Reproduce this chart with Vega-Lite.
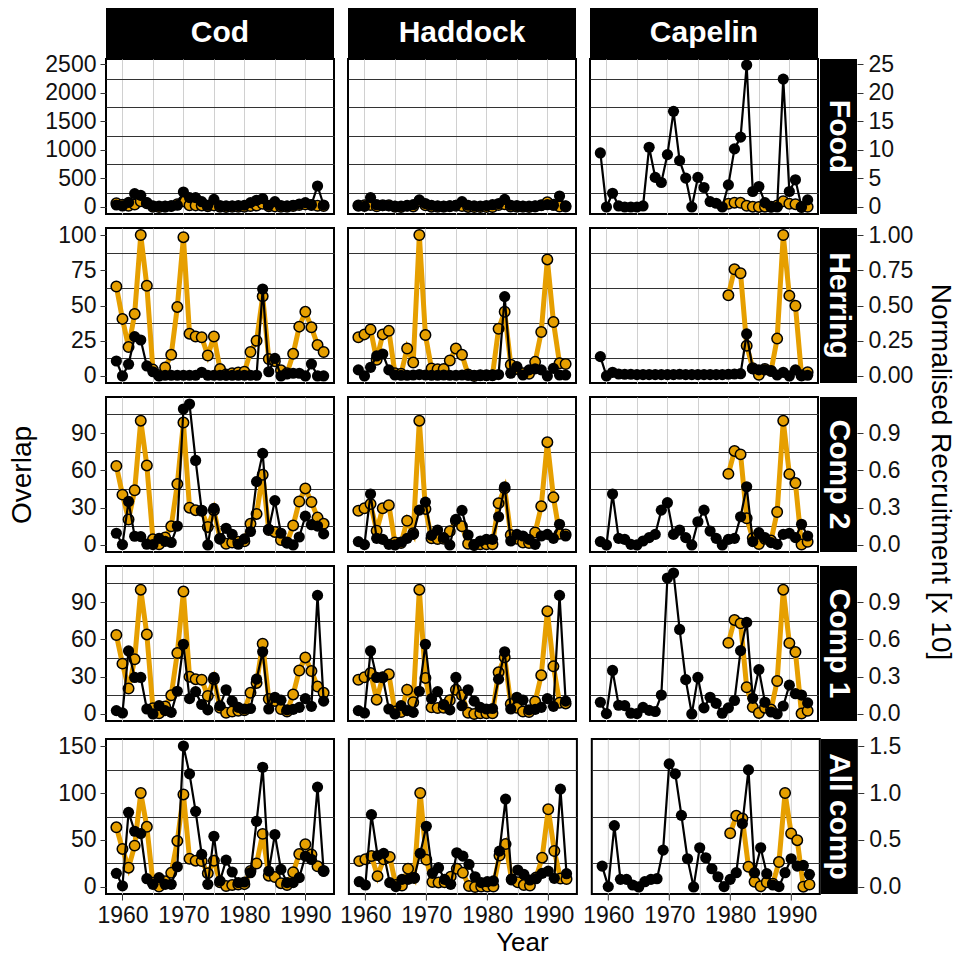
{
"$schema": "https://vega.github.io/schema/vega-lite/v6.json",
"padding": {"left": 5, "top": 8, "right": 3, "bottom": 0},
"background": "white",
"config": {
  "font": "Liberation Sans",
  "view": {"stroke": null},
  "axis": {"labelFont": "Liberation Sans", "titleFont": "Liberation Sans", "labelColor": "#111111", "tickColor": "#333333", "titleColor": "black", "labelFontSize": 23, "titleFontSize": 28, "titleFontWeight": "normal", "labelFlush": false, "tickSize": 6}
},
"datasets": {
"rc": [
{"sp":"Cod","yr":1959,"v":63.5},{"sp":"Cod","yr":1960,"v":40.5},{"sp":"Cod","yr":1961,"v":20.5},{"sp":"Cod","yr":1962,"v":44},{"sp":"Cod","yr":1963,"v":100},{"sp":"Cod","yr":1964,"v":64},{"sp":"Cod","yr":1965,"v":4.5},{"sp":"Cod","yr":1966,"v":0.5},{"sp":"Cod","yr":1967,"v":6},{"sp":"Cod","yr":1968,"v":15},{"sp":"Cod","yr":1969,"v":49},{"sp":"Cod","yr":1970,"v":98.5},{"sp":"Cod","yr":1971,"v":30},{"sp":"Cod","yr":1972,"v":28},{"sp":"Cod","yr":1973,"v":27.5},{"sp":"Cod","yr":1974,"v":14.5},{"sp":"Cod","yr":1975,"v":28},{"sp":"Cod","yr":1976,"v":5},{"sp":"Cod","yr":1977,"v":1},{"sp":"Cod","yr":1978,"v":2},{"sp":"Cod","yr":1979,"v":2.5},{"sp":"Cod","yr":1980,"v":3},{"sp":"Cod","yr":1981,"v":17},{"sp":"Cod","yr":1982,"v":25},{"sp":"Cod","yr":1983,"v":56.5},{"sp":"Cod","yr":1984,"v":12},{"sp":"Cod","yr":1985,"v":10.5},{"sp":"Cod","yr":1986,"v":4},{"sp":"Cod","yr":1987,"v":2},{"sp":"Cod","yr":1988,"v":15.7},{"sp":"Cod","yr":1989,"v":35},{"sp":"Cod","yr":1990,"v":45.5},{"sp":"Cod","yr":1991,"v":34.5},{"sp":"Cod","yr":1992,"v":22},{"sp":"Cod","yr":1993,"v":17},
{"sp":"Haddock","yr":1959,"v":27.5},{"sp":"Haddock","yr":1960,"v":29.5},{"sp":"Haddock","yr":1961,"v":33},{"sp":"Haddock","yr":1962,"v":11.5},{"sp":"Haddock","yr":1963,"v":29.5},{"sp":"Haddock","yr":1964,"v":32},{"sp":"Haddock","yr":1965,"v":2},{"sp":"Haddock","yr":1966,"v":1.5},{"sp":"Haddock","yr":1967,"v":19.5},{"sp":"Haddock","yr":1968,"v":9.5},{"sp":"Haddock","yr":1969,"v":100},{"sp":"Haddock","yr":1970,"v":29},{"sp":"Haddock","yr":1971,"v":5.3},{"sp":"Haddock","yr":1972,"v":4.8},{"sp":"Haddock","yr":1973,"v":5},{"sp":"Haddock","yr":1974,"v":11},{"sp":"Haddock","yr":1975,"v":19.5},{"sp":"Haddock","yr":1976,"v":15},{"sp":"Haddock","yr":1977,"v":1},{"sp":"Haddock","yr":1978,"v":0},{"sp":"Haddock","yr":1979,"v":0.5},{"sp":"Haddock","yr":1980,"v":0.5},{"sp":"Haddock","yr":1981,"v":0.5},{"sp":"Haddock","yr":1982,"v":33.5},{"sp":"Haddock","yr":1983,"v":45.6},{"sp":"Haddock","yr":1984,"v":8},{"sp":"Haddock","yr":1985,"v":5},{"sp":"Haddock","yr":1986,"v":2},{"sp":"Haddock","yr":1987,"v":1.5},{"sp":"Haddock","yr":1988,"v":10},{"sp":"Haddock","yr":1989,"v":31.2},{"sp":"Haddock","yr":1990,"v":82.7},{"sp":"Haddock","yr":1991,"v":38.3},{"sp":"Haddock","yr":1992,"v":9},{"sp":"Haddock","yr":1993,"v":8.5},
{"sp":"Capelin","yr":1980,"v":57.2},{"sp":"Capelin","yr":1981,"v":75.7},{"sp":"Capelin","yr":1982,"v":72.9},{"sp":"Capelin","yr":1983,"v":21.5},{"sp":"Capelin","yr":1984,"v":5.5},{"sp":"Capelin","yr":1985,"v":0.8},{"sp":"Capelin","yr":1986,"v":5},{"sp":"Capelin","yr":1987,"v":3.5},{"sp":"Capelin","yr":1988,"v":26.5},{"sp":"Capelin","yr":1989,"v":100},{"sp":"Capelin","yr":1990,"v":57},{"sp":"Capelin","yr":1991,"v":49.8},{"sp":"Capelin","yr":1992,"v":0.3},{"sp":"Capelin","yr":1993,"v":2.6}
],
"ov": [
{"p":"Food","sp":"Cod","yr":1959,"v":35},{"p":"Food","sp":"Cod","yr":1960,"v":18},{"p":"Food","sp":"Cod","yr":1961,"v":80},{"p":"Food","sp":"Cod","yr":1962,"v":234},{"p":"Food","sp":"Cod","yr":1963,"v":204},{"p":"Food","sp":"Cod","yr":1964,"v":76},{"p":"Food","sp":"Cod","yr":1965,"v":20},{"p":"Food","sp":"Cod","yr":1966,"v":15},{"p":"Food","sp":"Cod","yr":1967,"v":15},{"p":"Food","sp":"Cod","yr":1968,"v":20},{"p":"Food","sp":"Cod","yr":1969,"v":30},{"p":"Food","sp":"Cod","yr":1970,"v":263},{"p":"Food","sp":"Cod","yr":1971,"v":164},{"p":"Food","sp":"Cod","yr":1972,"v":164},{"p":"Food","sp":"Cod","yr":1973,"v":93},{"p":"Food","sp":"Cod","yr":1974,"v":30},{"p":"Food","sp":"Cod","yr":1975,"v":134},{"p":"Food","sp":"Cod","yr":1976,"v":25},{"p":"Food","sp":"Cod","yr":1977,"v":20},{"p":"Food","sp":"Cod","yr":1978,"v":20},{"p":"Food","sp":"Cod","yr":1979,"v":25},{"p":"Food","sp":"Cod","yr":1980,"v":30},{"p":"Food","sp":"Cod","yr":1981,"v":76},{"p":"Food","sp":"Cod","yr":1982,"v":117},{"p":"Food","sp":"Cod","yr":1983,"v":146},{"p":"Food","sp":"Cod","yr":1984,"v":30},{"p":"Food","sp":"Cod","yr":1985,"v":93},{"p":"Food","sp":"Cod","yr":1986,"v":25},{"p":"Food","sp":"Cod","yr":1987,"v":20},{"p":"Food","sp":"Cod","yr":1988,"v":30},{"p":"Food","sp":"Cod","yr":1989,"v":50},{"p":"Food","sp":"Cod","yr":1990,"v":76},{"p":"Food","sp":"Cod","yr":1991,"v":40},{"p":"Food","sp":"Cod","yr":1992,"v":368},{"p":"Food","sp":"Cod","yr":1993,"v":35},
{"p":"Food","sp":"Haddock","yr":1959,"v":18},{"p":"Food","sp":"Haddock","yr":1960,"v":10},{"p":"Food","sp":"Haddock","yr":1961,"v":164},{"p":"Food","sp":"Haddock","yr":1962,"v":40},{"p":"Food","sp":"Haddock","yr":1963,"v":25},{"p":"Food","sp":"Haddock","yr":1964,"v":20},{"p":"Food","sp":"Haddock","yr":1965,"v":15},{"p":"Food","sp":"Haddock","yr":1966,"v":15},{"p":"Food","sp":"Haddock","yr":1967,"v":20},{"p":"Food","sp":"Haddock","yr":1968,"v":40},{"p":"Food","sp":"Haddock","yr":1969,"v":123},{"p":"Food","sp":"Haddock","yr":1970,"v":60},{"p":"Food","sp":"Haddock","yr":1971,"v":30},{"p":"Food","sp":"Haddock","yr":1972,"v":20},{"p":"Food","sp":"Haddock","yr":1973,"v":15},{"p":"Food","sp":"Haddock","yr":1974,"v":20},{"p":"Food","sp":"Haddock","yr":1975,"v":30},{"p":"Food","sp":"Haddock","yr":1976,"v":93},{"p":"Food","sp":"Haddock","yr":1977,"v":30},{"p":"Food","sp":"Haddock","yr":1978,"v":20},{"p":"Food","sp":"Haddock","yr":1979,"v":15},{"p":"Food","sp":"Haddock","yr":1980,"v":25},{"p":"Food","sp":"Haddock","yr":1981,"v":40},{"p":"Food","sp":"Haddock","yr":1982,"v":60},{"p":"Food","sp":"Haddock","yr":1983,"v":134},{"p":"Food","sp":"Haddock","yr":1984,"v":30},{"p":"Food","sp":"Haddock","yr":1985,"v":25},{"p":"Food","sp":"Haddock","yr":1986,"v":15},{"p":"Food","sp":"Haddock","yr":1987,"v":15},{"p":"Food","sp":"Haddock","yr":1988,"v":20},{"p":"Food","sp":"Haddock","yr":1989,"v":30},{"p":"Food","sp":"Haddock","yr":1990,"v":40},{"p":"Food","sp":"Haddock","yr":1991,"v":30},{"p":"Food","sp":"Haddock","yr":1992,"v":193},{"p":"Food","sp":"Haddock","yr":1993,"v":18},
{"p":"Food","sp":"Capelin","yr":1959,"v":947},{"p":"Food","sp":"Capelin","yr":1960,"v":0},{"p":"Food","sp":"Capelin","yr":1961,"v":241},{"p":"Food","sp":"Capelin","yr":1962,"v":18},{"p":"Food","sp":"Capelin","yr":1963,"v":0},{"p":"Food","sp":"Capelin","yr":1964,"v":0},{"p":"Food","sp":"Capelin","yr":1965,"v":0},{"p":"Food","sp":"Capelin","yr":1966,"v":18},{"p":"Food","sp":"Capelin","yr":1967,"v":1047},{"p":"Food","sp":"Capelin","yr":1968,"v":518},{"p":"Food","sp":"Capelin","yr":1969,"v":429},{"p":"Food","sp":"Capelin","yr":1970,"v":918},{"p":"Food","sp":"Capelin","yr":1971,"v":1676},{"p":"Food","sp":"Capelin","yr":1972,"v":812},{"p":"Food","sp":"Capelin","yr":1973,"v":506},{"p":"Food","sp":"Capelin","yr":1974,"v":0},{"p":"Food","sp":"Capelin","yr":1975,"v":518},{"p":"Food","sp":"Capelin","yr":1976,"v":341},{"p":"Food","sp":"Capelin","yr":1977,"v":94},{"p":"Food","sp":"Capelin","yr":1978,"v":65},{"p":"Food","sp":"Capelin","yr":1979,"v":0},{"p":"Food","sp":"Capelin","yr":1980,"v":388},{"p":"Food","sp":"Capelin","yr":1981,"v":1018},{"p":"Food","sp":"Capelin","yr":1982,"v":1224},{"p":"Food","sp":"Capelin","yr":1983,"v":2488},{"p":"Food","sp":"Capelin","yr":1984,"v":271},{"p":"Food","sp":"Capelin","yr":1985,"v":359},{"p":"Food","sp":"Capelin","yr":1986,"v":76},{"p":"Food","sp":"Capelin","yr":1987,"v":0},{"p":"Food","sp":"Capelin","yr":1988,"v":0},{"p":"Food","sp":"Capelin","yr":1989,"v":2241},{"p":"Food","sp":"Capelin","yr":1990,"v":271},{"p":"Food","sp":"Capelin","yr":1991,"v":476},{"p":"Food","sp":"Capelin","yr":1992,"v":0},{"p":"Food","sp":"Capelin","yr":1993,"v":124},
{"p":"Herring","sp":"Cod","yr":1959,"v":10.6},{"p":"Herring","sp":"Cod","yr":1960,"v":0},{"p":"Herring","sp":"Cod","yr":1961,"v":8.3},{"p":"Herring","sp":"Cod","yr":1962,"v":27.9},{"p":"Herring","sp":"Cod","yr":1963,"v":25.5},{"p":"Herring","sp":"Cod","yr":1964,"v":7.1},{"p":"Herring","sp":"Cod","yr":1965,"v":3},{"p":"Herring","sp":"Cod","yr":1966,"v":0},{"p":"Herring","sp":"Cod","yr":1967,"v":0.5},{"p":"Herring","sp":"Cod","yr":1968,"v":0.5},{"p":"Herring","sp":"Cod","yr":1969,"v":0.5},{"p":"Herring","sp":"Cod","yr":1970,"v":0.5},{"p":"Herring","sp":"Cod","yr":1971,"v":0.5},{"p":"Herring","sp":"Cod","yr":1972,"v":0.5},{"p":"Herring","sp":"Cod","yr":1973,"v":2.6},{"p":"Herring","sp":"Cod","yr":1974,"v":0.5},{"p":"Herring","sp":"Cod","yr":1975,"v":0.5},{"p":"Herring","sp":"Cod","yr":1976,"v":0.5},{"p":"Herring","sp":"Cod","yr":1977,"v":0.5},{"p":"Herring","sp":"Cod","yr":1978,"v":0.5},{"p":"Herring","sp":"Cod","yr":1979,"v":0.5},{"p":"Herring","sp":"Cod","yr":1980,"v":0.5},{"p":"Herring","sp":"Cod","yr":1981,"v":0.5},{"p":"Herring","sp":"Cod","yr":1982,"v":0.5},{"p":"Herring","sp":"Cod","yr":1983,"v":61.7},{"p":"Herring","sp":"Cod","yr":1984,"v":3},{"p":"Herring","sp":"Cod","yr":1985,"v":12.5},{"p":"Herring","sp":"Cod","yr":1986,"v":0},{"p":"Herring","sp":"Cod","yr":1987,"v":1.4},{"p":"Herring","sp":"Cod","yr":1988,"v":1.9},{"p":"Herring","sp":"Cod","yr":1989,"v":1.9},{"p":"Herring","sp":"Cod","yr":1990,"v":0},{"p":"Herring","sp":"Cod","yr":1991,"v":8.5},{"p":"Herring","sp":"Cod","yr":1992,"v":0},{"p":"Herring","sp":"Cod","yr":1993,"v":0},
{"p":"Herring","sp":"Haddock","yr":1959,"v":4.3},{"p":"Herring","sp":"Haddock","yr":1960,"v":0},{"p":"Herring","sp":"Haddock","yr":1961,"v":6.1},{"p":"Herring","sp":"Haddock","yr":1962,"v":14.2},{"p":"Herring","sp":"Haddock","yr":1963,"v":15.6},{"p":"Herring","sp":"Haddock","yr":1964,"v":4.3},{"p":"Herring","sp":"Haddock","yr":1965,"v":0.7},{"p":"Herring","sp":"Haddock","yr":1966,"v":0.5},{"p":"Herring","sp":"Haddock","yr":1967,"v":0.5},{"p":"Herring","sp":"Haddock","yr":1968,"v":0.7},{"p":"Herring","sp":"Haddock","yr":1969,"v":1},{"p":"Herring","sp":"Haddock","yr":1970,"v":0.7},{"p":"Herring","sp":"Haddock","yr":1971,"v":0.5},{"p":"Herring","sp":"Haddock","yr":1972,"v":0.5},{"p":"Herring","sp":"Haddock","yr":1973,"v":0.7},{"p":"Herring","sp":"Haddock","yr":1974,"v":0.5},{"p":"Herring","sp":"Haddock","yr":1975,"v":0.5},{"p":"Herring","sp":"Haddock","yr":1976,"v":0.7},{"p":"Herring","sp":"Haddock","yr":1977,"v":0.5},{"p":"Herring","sp":"Haddock","yr":1978,"v":0.5},{"p":"Herring","sp":"Haddock","yr":1979,"v":0.5},{"p":"Herring","sp":"Haddock","yr":1980,"v":0.5},{"p":"Herring","sp":"Haddock","yr":1981,"v":0.7},{"p":"Herring","sp":"Haddock","yr":1982,"v":1},{"p":"Herring","sp":"Haddock","yr":1983,"v":56.3},{"p":"Herring","sp":"Haddock","yr":1984,"v":1.9},{"p":"Herring","sp":"Haddock","yr":1985,"v":6.6},{"p":"Herring","sp":"Haddock","yr":1986,"v":0.7},{"p":"Herring","sp":"Haddock","yr":1987,"v":4.3},{"p":"Herring","sp":"Haddock","yr":1988,"v":5},{"p":"Herring","sp":"Haddock","yr":1989,"v":4.3},{"p":"Herring","sp":"Haddock","yr":1990,"v":0},{"p":"Herring","sp":"Haddock","yr":1991,"v":5.4},{"p":"Herring","sp":"Haddock","yr":1992,"v":0.7},{"p":"Herring","sp":"Haddock","yr":1993,"v":0.7},
{"p":"Herring","sp":"Capelin","yr":1959,"v":13.7},{"p":"Herring","sp":"Capelin","yr":1960,"v":0},{"p":"Herring","sp":"Capelin","yr":1961,"v":2.6},{"p":"Herring","sp":"Capelin","yr":1962,"v":1.4},{"p":"Herring","sp":"Capelin","yr":1963,"v":1.2},{"p":"Herring","sp":"Capelin","yr":1964,"v":1.2},{"p":"Herring","sp":"Capelin","yr":1965,"v":1},{"p":"Herring","sp":"Capelin","yr":1966,"v":1},{"p":"Herring","sp":"Capelin","yr":1967,"v":1},{"p":"Herring","sp":"Capelin","yr":1968,"v":1},{"p":"Herring","sp":"Capelin","yr":1969,"v":1},{"p":"Herring","sp":"Capelin","yr":1970,"v":1},{"p":"Herring","sp":"Capelin","yr":1971,"v":1},{"p":"Herring","sp":"Capelin","yr":1972,"v":1.2},{"p":"Herring","sp":"Capelin","yr":1973,"v":1},{"p":"Herring","sp":"Capelin","yr":1974,"v":1},{"p":"Herring","sp":"Capelin","yr":1975,"v":1},{"p":"Herring","sp":"Capelin","yr":1976,"v":1},{"p":"Herring","sp":"Capelin","yr":1977,"v":1},{"p":"Herring","sp":"Capelin","yr":1978,"v":1},{"p":"Herring","sp":"Capelin","yr":1979,"v":1},{"p":"Herring","sp":"Capelin","yr":1980,"v":1.2},{"p":"Herring","sp":"Capelin","yr":1981,"v":1.4},{"p":"Herring","sp":"Capelin","yr":1982,"v":1.6},{"p":"Herring","sp":"Capelin","yr":1983,"v":29.8},{"p":"Herring","sp":"Capelin","yr":1984,"v":5},{"p":"Herring","sp":"Capelin","yr":1985,"v":4.3},{"p":"Herring","sp":"Capelin","yr":1986,"v":4.3},{"p":"Herring","sp":"Capelin","yr":1987,"v":3.5},{"p":"Herring","sp":"Capelin","yr":1988,"v":0.7},{"p":"Herring","sp":"Capelin","yr":1989,"v":2.6},{"p":"Herring","sp":"Capelin","yr":1990,"v":0},{"p":"Herring","sp":"Capelin","yr":1991,"v":4.3},{"p":"Herring","sp":"Capelin","yr":1992,"v":0.7},{"p":"Herring","sp":"Capelin","yr":1993,"v":0.5},
{"p":"Comp 2","sp":"Cod","yr":1959,"v":9.4},{"p":"Comp 2","sp":"Cod","yr":1960,"v":0.3},{"p":"Comp 2","sp":"Cod","yr":1961,"v":35},{"p":"Comp 2","sp":"Cod","yr":1962,"v":7},{"p":"Comp 2","sp":"Cod","yr":1963,"v":6.7},{"p":"Comp 2","sp":"Cod","yr":1964,"v":0.6},{"p":"Comp 2","sp":"Cod","yr":1965,"v":0.3},{"p":"Comp 2","sp":"Cod","yr":1966,"v":5.3},{"p":"Comp 2","sp":"Cod","yr":1967,"v":2.9},{"p":"Comp 2","sp":"Cod","yr":1968,"v":2},{"p":"Comp 2","sp":"Cod","yr":1969,"v":15.2},{"p":"Comp 2","sp":"Cod","yr":1970,"v":109.4},{"p":"Comp 2","sp":"Cod","yr":1971,"v":113.4},{"p":"Comp 2","sp":"Cod","yr":1972,"v":68},{"p":"Comp 2","sp":"Cod","yr":1973,"v":27.6},{"p":"Comp 2","sp":"Cod","yr":1974,"v":0},{"p":"Comp 2","sp":"Cod","yr":1975,"v":29.4},{"p":"Comp 2","sp":"Cod","yr":1976,"v":4.9},{"p":"Comp 2","sp":"Cod","yr":1977,"v":13.4},{"p":"Comp 2","sp":"Cod","yr":1978,"v":8.5},{"p":"Comp 2","sp":"Cod","yr":1979,"v":0.6},{"p":"Comp 2","sp":"Cod","yr":1980,"v":4.9},{"p":"Comp 2","sp":"Cod","yr":1981,"v":10.8},{"p":"Comp 2","sp":"Cod","yr":1982,"v":51},{"p":"Comp 2","sp":"Cod","yr":1983,"v":73.7},{"p":"Comp 2","sp":"Cod","yr":1984,"v":12.6},{"p":"Comp 2","sp":"Cod","yr":1985,"v":35.7},{"p":"Comp 2","sp":"Cod","yr":1986,"v":9.4},{"p":"Comp 2","sp":"Cod","yr":1987,"v":1.6},{"p":"Comp 2","sp":"Cod","yr":1988,"v":0},{"p":"Comp 2","sp":"Cod","yr":1989,"v":6.4},{"p":"Comp 2","sp":"Cod","yr":1990,"v":23.2},{"p":"Comp 2","sp":"Cod","yr":1991,"v":16.3},{"p":"Comp 2","sp":"Cod","yr":1992,"v":15.2},{"p":"Comp 2","sp":"Cod","yr":1993,"v":8.9},
{"p":"Comp 2","sp":"Haddock","yr":1959,"v":2.7},{"p":"Comp 2","sp":"Haddock","yr":1960,"v":0.3},{"p":"Comp 2","sp":"Haddock","yr":1961,"v":41},{"p":"Comp 2","sp":"Haddock","yr":1962,"v":5.3},{"p":"Comp 2","sp":"Haddock","yr":1963,"v":4.5},{"p":"Comp 2","sp":"Haddock","yr":1964,"v":0.5},{"p":"Comp 2","sp":"Haddock","yr":1965,"v":0},{"p":"Comp 2","sp":"Haddock","yr":1966,"v":2.4},{"p":"Comp 2","sp":"Haddock","yr":1967,"v":5.3},{"p":"Comp 2","sp":"Haddock","yr":1968,"v":8.5},{"p":"Comp 2","sp":"Haddock","yr":1969,"v":28},{"p":"Comp 2","sp":"Haddock","yr":1970,"v":34.5},{"p":"Comp 2","sp":"Haddock","yr":1971,"v":7.7},{"p":"Comp 2","sp":"Haddock","yr":1972,"v":12},{"p":"Comp 2","sp":"Haddock","yr":1973,"v":5.9},{"p":"Comp 2","sp":"Haddock","yr":1974,"v":0},{"p":"Comp 2","sp":"Haddock","yr":1975,"v":20.6},{"p":"Comp 2","sp":"Haddock","yr":1976,"v":27.8},{"p":"Comp 2","sp":"Haddock","yr":1977,"v":8},{"p":"Comp 2","sp":"Haddock","yr":1978,"v":0},{"p":"Comp 2","sp":"Haddock","yr":1979,"v":3.2},{"p":"Comp 2","sp":"Haddock","yr":1980,"v":4.5},{"p":"Comp 2","sp":"Haddock","yr":1981,"v":4.5},{"p":"Comp 2","sp":"Haddock","yr":1982,"v":22.7},{"p":"Comp 2","sp":"Haddock","yr":1983,"v":46.8},{"p":"Comp 2","sp":"Haddock","yr":1984,"v":3.2},{"p":"Comp 2","sp":"Haddock","yr":1985,"v":8.5},{"p":"Comp 2","sp":"Haddock","yr":1986,"v":7.2},{"p":"Comp 2","sp":"Haddock","yr":1987,"v":4.5},{"p":"Comp 2","sp":"Haddock","yr":1988,"v":0.5},{"p":"Comp 2","sp":"Haddock","yr":1989,"v":7.2},{"p":"Comp 2","sp":"Haddock","yr":1990,"v":8.5},{"p":"Comp 2","sp":"Haddock","yr":1991,"v":5.3},{"p":"Comp 2","sp":"Haddock","yr":1992,"v":16.6},{"p":"Comp 2","sp":"Haddock","yr":1993,"v":7.2},
{"p":"Comp 2","sp":"Capelin","yr":1959,"v":2.7},{"p":"Comp 2","sp":"Capelin","yr":1960,"v":0},{"p":"Comp 2","sp":"Capelin","yr":1961,"v":41},{"p":"Comp 2","sp":"Capelin","yr":1962,"v":5.3},{"p":"Comp 2","sp":"Capelin","yr":1963,"v":4.5},{"p":"Comp 2","sp":"Capelin","yr":1964,"v":0.5},{"p":"Comp 2","sp":"Capelin","yr":1965,"v":0},{"p":"Comp 2","sp":"Capelin","yr":1966,"v":3.2},{"p":"Comp 2","sp":"Capelin","yr":1967,"v":5.9},{"p":"Comp 2","sp":"Capelin","yr":1968,"v":8.5},{"p":"Comp 2","sp":"Capelin","yr":1969,"v":28},{"p":"Comp 2","sp":"Capelin","yr":1970,"v":34},{"p":"Comp 2","sp":"Capelin","yr":1971,"v":8.5},{"p":"Comp 2","sp":"Capelin","yr":1972,"v":12},{"p":"Comp 2","sp":"Capelin","yr":1973,"v":5.9},{"p":"Comp 2","sp":"Capelin","yr":1974,"v":0},{"p":"Comp 2","sp":"Capelin","yr":1975,"v":18.7},{"p":"Comp 2","sp":"Capelin","yr":1976,"v":28},{"p":"Comp 2","sp":"Capelin","yr":1977,"v":11.2},{"p":"Comp 2","sp":"Capelin","yr":1978,"v":5.3},{"p":"Comp 2","sp":"Capelin","yr":1979,"v":0},{"p":"Comp 2","sp":"Capelin","yr":1980,"v":4.5},{"p":"Comp 2","sp":"Capelin","yr":1981,"v":5.3},{"p":"Comp 2","sp":"Capelin","yr":1982,"v":22.7},{"p":"Comp 2","sp":"Capelin","yr":1983,"v":46.8},{"p":"Comp 2","sp":"Capelin","yr":1984,"v":2.7},{"p":"Comp 2","sp":"Capelin","yr":1985,"v":9.9},{"p":"Comp 2","sp":"Capelin","yr":1986,"v":5.9},{"p":"Comp 2","sp":"Capelin","yr":1987,"v":1.9},{"p":"Comp 2","sp":"Capelin","yr":1988,"v":0.5},{"p":"Comp 2","sp":"Capelin","yr":1989,"v":8.5},{"p":"Comp 2","sp":"Capelin","yr":1990,"v":9.4},{"p":"Comp 2","sp":"Capelin","yr":1991,"v":5.9},{"p":"Comp 2","sp":"Capelin","yr":1992,"v":16.6},{"p":"Comp 2","sp":"Capelin","yr":1993,"v":7.2},
{"p":"Comp 1","sp":"Cod","yr":1959,"v":2.7},{"p":"Comp 1","sp":"Cod","yr":1960,"v":0.8},{"p":"Comp 1","sp":"Cod","yr":1961,"v":50.7},{"p":"Comp 1","sp":"Cod","yr":1962,"v":29.4},{"p":"Comp 1","sp":"Cod","yr":1963,"v":29.4},{"p":"Comp 1","sp":"Cod","yr":1964,"v":4},{"p":"Comp 1","sp":"Cod","yr":1965,"v":0},{"p":"Comp 1","sp":"Cod","yr":1966,"v":6.7},{"p":"Comp 1","sp":"Cod","yr":1967,"v":2.7},{"p":"Comp 1","sp":"Cod","yr":1968,"v":1.3},{"p":"Comp 1","sp":"Cod","yr":1969,"v":18.3},{"p":"Comp 1","sp":"Cod","yr":1970,"v":56.1},{"p":"Comp 1","sp":"Cod","yr":1971,"v":12.3},{"p":"Comp 1","sp":"Cod","yr":1972,"v":17.9},{"p":"Comp 1","sp":"Cod","yr":1973,"v":7.6},{"p":"Comp 1","sp":"Cod","yr":1974,"v":3.3},{"p":"Comp 1","sp":"Cod","yr":1975,"v":29.4},{"p":"Comp 1","sp":"Cod","yr":1976,"v":6.6},{"p":"Comp 1","sp":"Cod","yr":1977,"v":19.5},{"p":"Comp 1","sp":"Cod","yr":1978,"v":10.3},{"p":"Comp 1","sp":"Cod","yr":1979,"v":5.3},{"p":"Comp 1","sp":"Cod","yr":1980,"v":4},{"p":"Comp 1","sp":"Cod","yr":1981,"v":4.4},{"p":"Comp 1","sp":"Cod","yr":1982,"v":28},{"p":"Comp 1","sp":"Cod","yr":1983,"v":50},{"p":"Comp 1","sp":"Cod","yr":1984,"v":4},{"p":"Comp 1","sp":"Cod","yr":1985,"v":13.4},{"p":"Comp 1","sp":"Cod","yr":1986,"v":11.1},{"p":"Comp 1","sp":"Cod","yr":1987,"v":3.3},{"p":"Comp 1","sp":"Cod","yr":1988,"v":3.7},{"p":"Comp 1","sp":"Cod","yr":1989,"v":5.3},{"p":"Comp 1","sp":"Cod","yr":1990,"v":12.3},{"p":"Comp 1","sp":"Cod","yr":1991,"v":6.1},{"p":"Comp 1","sp":"Cod","yr":1992,"v":95.4},{"p":"Comp 1","sp":"Cod","yr":1993,"v":10.3},
{"p":"Comp 1","sp":"Haddock","yr":1959,"v":2.7},{"p":"Comp 1","sp":"Haddock","yr":1960,"v":0.8},{"p":"Comp 1","sp":"Haddock","yr":1961,"v":50.7},{"p":"Comp 1","sp":"Haddock","yr":1962,"v":29.4},{"p":"Comp 1","sp":"Haddock","yr":1963,"v":29.4},{"p":"Comp 1","sp":"Haddock","yr":1964,"v":4},{"p":"Comp 1","sp":"Haddock","yr":1965,"v":0},{"p":"Comp 1","sp":"Haddock","yr":1966,"v":6.7},{"p":"Comp 1","sp":"Haddock","yr":1967,"v":2.7},{"p":"Comp 1","sp":"Haddock","yr":1968,"v":1.3},{"p":"Comp 1","sp":"Haddock","yr":1969,"v":18.3},{"p":"Comp 1","sp":"Haddock","yr":1970,"v":56.1},{"p":"Comp 1","sp":"Haddock","yr":1971,"v":12.3},{"p":"Comp 1","sp":"Haddock","yr":1972,"v":17.9},{"p":"Comp 1","sp":"Haddock","yr":1973,"v":7.6},{"p":"Comp 1","sp":"Haddock","yr":1974,"v":3.3},{"p":"Comp 1","sp":"Haddock","yr":1975,"v":29.4},{"p":"Comp 1","sp":"Haddock","yr":1976,"v":6.6},{"p":"Comp 1","sp":"Haddock","yr":1977,"v":19.5},{"p":"Comp 1","sp":"Haddock","yr":1978,"v":10.3},{"p":"Comp 1","sp":"Haddock","yr":1979,"v":5.3},{"p":"Comp 1","sp":"Haddock","yr":1980,"v":4},{"p":"Comp 1","sp":"Haddock","yr":1981,"v":4.4},{"p":"Comp 1","sp":"Haddock","yr":1982,"v":28},{"p":"Comp 1","sp":"Haddock","yr":1983,"v":50},{"p":"Comp 1","sp":"Haddock","yr":1984,"v":4},{"p":"Comp 1","sp":"Haddock","yr":1985,"v":13.4},{"p":"Comp 1","sp":"Haddock","yr":1986,"v":11.1},{"p":"Comp 1","sp":"Haddock","yr":1987,"v":3.3},{"p":"Comp 1","sp":"Haddock","yr":1988,"v":3.7},{"p":"Comp 1","sp":"Haddock","yr":1989,"v":5.3},{"p":"Comp 1","sp":"Haddock","yr":1990,"v":12.3},{"p":"Comp 1","sp":"Haddock","yr":1991,"v":6.1},{"p":"Comp 1","sp":"Haddock","yr":1992,"v":95.4},{"p":"Comp 1","sp":"Haddock","yr":1993,"v":10.3},
{"p":"Comp 1","sp":"Capelin","yr":1959,"v":9.4},{"p":"Comp 1","sp":"Capelin","yr":1960,"v":0.3},{"p":"Comp 1","sp":"Capelin","yr":1961,"v":35},{"p":"Comp 1","sp":"Capelin","yr":1962,"v":7},{"p":"Comp 1","sp":"Capelin","yr":1963,"v":6.7},{"p":"Comp 1","sp":"Capelin","yr":1964,"v":0.6},{"p":"Comp 1","sp":"Capelin","yr":1965,"v":0.3},{"p":"Comp 1","sp":"Capelin","yr":1966,"v":5.3},{"p":"Comp 1","sp":"Capelin","yr":1967,"v":2.9},{"p":"Comp 1","sp":"Capelin","yr":1968,"v":2},{"p":"Comp 1","sp":"Capelin","yr":1969,"v":15.2},{"p":"Comp 1","sp":"Capelin","yr":1970,"v":109.4},{"p":"Comp 1","sp":"Capelin","yr":1971,"v":113.4},{"p":"Comp 1","sp":"Capelin","yr":1972,"v":68},{"p":"Comp 1","sp":"Capelin","yr":1973,"v":27.6},{"p":"Comp 1","sp":"Capelin","yr":1974,"v":0},{"p":"Comp 1","sp":"Capelin","yr":1975,"v":29.4},{"p":"Comp 1","sp":"Capelin","yr":1976,"v":4.9},{"p":"Comp 1","sp":"Capelin","yr":1977,"v":13.4},{"p":"Comp 1","sp":"Capelin","yr":1978,"v":8.5},{"p":"Comp 1","sp":"Capelin","yr":1979,"v":0.6},{"p":"Comp 1","sp":"Capelin","yr":1980,"v":4.9},{"p":"Comp 1","sp":"Capelin","yr":1981,"v":10.8},{"p":"Comp 1","sp":"Capelin","yr":1982,"v":51},{"p":"Comp 1","sp":"Capelin","yr":1983,"v":73.7},{"p":"Comp 1","sp":"Capelin","yr":1984,"v":12.6},{"p":"Comp 1","sp":"Capelin","yr":1985,"v":35.7},{"p":"Comp 1","sp":"Capelin","yr":1986,"v":9.4},{"p":"Comp 1","sp":"Capelin","yr":1987,"v":1.6},{"p":"Comp 1","sp":"Capelin","yr":1988,"v":0},{"p":"Comp 1","sp":"Capelin","yr":1989,"v":6.4},{"p":"Comp 1","sp":"Capelin","yr":1990,"v":23.2},{"p":"Comp 1","sp":"Capelin","yr":1991,"v":16.3},{"p":"Comp 1","sp":"Capelin","yr":1992,"v":15.2},{"p":"Comp 1","sp":"Capelin","yr":1993,"v":8.9},
{"p":"All comp","sp":"Cod","yr":1959,"v":14.5},{"p":"All comp","sp":"Cod","yr":1960,"v":1.1},{"p":"All comp","sp":"Cod","yr":1961,"v":79.4},{"p":"All comp","sp":"Cod","yr":1962,"v":59.3},{"p":"All comp","sp":"Cod","yr":1963,"v":56.8},{"p":"All comp","sp":"Cod","yr":1964,"v":8.8},{"p":"All comp","sp":"Cod","yr":1965,"v":2.8},{"p":"All comp","sp":"Cod","yr":1966,"v":9.9},{"p":"All comp","sp":"Cod","yr":1967,"v":2.8},{"p":"All comp","sp":"Cod","yr":1968,"v":2.8},{"p":"All comp","sp":"Cod","yr":1969,"v":21.5},{"p":"All comp","sp":"Cod","yr":1970,"v":150},{"p":"All comp","sp":"Cod","yr":1971,"v":120.4},{"p":"All comp","sp":"Cod","yr":1972,"v":80.5},{"p":"All comp","sp":"Cod","yr":1973,"v":34.6},{"p":"All comp","sp":"Cod","yr":1974,"v":2.8},{"p":"All comp","sp":"Cod","yr":1975,"v":54},{"p":"All comp","sp":"Cod","yr":1976,"v":6.4},{"p":"All comp","sp":"Cod","yr":1977,"v":28.6},{"p":"All comp","sp":"Cod","yr":1978,"v":15.9},{"p":"All comp","sp":"Cod","yr":1979,"v":4.6},{"p":"All comp","sp":"Cod","yr":1980,"v":5.3},{"p":"All comp","sp":"Cod","yr":1981,"v":15.2},{"p":"All comp","sp":"Cod","yr":1982,"v":69.9},{"p":"All comp","sp":"Cod","yr":1983,"v":127.4},{"p":"All comp","sp":"Cod","yr":1984,"v":16.9},{"p":"All comp","sp":"Cod","yr":1985,"v":55.8},{"p":"All comp","sp":"Cod","yr":1986,"v":18.7},{"p":"All comp","sp":"Cod","yr":1987,"v":4.6},{"p":"All comp","sp":"Cod","yr":1988,"v":4.6},{"p":"All comp","sp":"Cod","yr":1989,"v":9.9},{"p":"All comp","sp":"Cod","yr":1990,"v":32.8},{"p":"All comp","sp":"Cod","yr":1991,"v":29.3},{"p":"All comp","sp":"Cod","yr":1992,"v":106.3},{"p":"All comp","sp":"Cod","yr":1993,"v":16.9},
{"p":"All comp","sp":"Haddock","yr":1959,"v":5.6},{"p":"All comp","sp":"Haddock","yr":1960,"v":2.1},{"p":"All comp","sp":"Haddock","yr":1961,"v":77},{"p":"All comp","sp":"Haddock","yr":1962,"v":33.5},{"p":"All comp","sp":"Haddock","yr":1963,"v":35.7},{"p":"All comp","sp":"Haddock","yr":1964,"v":4.6},{"p":"All comp","sp":"Haddock","yr":1965,"v":0.4},{"p":"All comp","sp":"Haddock","yr":1966,"v":8.1},{"p":"All comp","sp":"Haddock","yr":1967,"v":8.1},{"p":"All comp","sp":"Haddock","yr":1968,"v":9.9},{"p":"All comp","sp":"Haddock","yr":1969,"v":35.7},{"p":"All comp","sp":"Haddock","yr":1970,"v":64.6},{"p":"All comp","sp":"Haddock","yr":1971,"v":14.5},{"p":"All comp","sp":"Haddock","yr":1972,"v":20.5},{"p":"All comp","sp":"Haddock","yr":1973,"v":8.1},{"p":"All comp","sp":"Haddock","yr":1974,"v":2.8},{"p":"All comp","sp":"Haddock","yr":1975,"v":36.4},{"p":"All comp","sp":"Haddock","yr":1976,"v":32.8},{"p":"All comp","sp":"Haddock","yr":1977,"v":24},{"p":"All comp","sp":"Haddock","yr":1978,"v":10.9},{"p":"All comp","sp":"Haddock","yr":1979,"v":4.6},{"p":"All comp","sp":"Haddock","yr":1980,"v":5.6},{"p":"All comp","sp":"Haddock","yr":1981,"v":6.4},{"p":"All comp","sp":"Haddock","yr":1982,"v":38.1},{"p":"All comp","sp":"Haddock","yr":1983,"v":93.5},{"p":"All comp","sp":"Haddock","yr":1984,"v":8.1},{"p":"All comp","sp":"Haddock","yr":1985,"v":18},{"p":"All comp","sp":"Haddock","yr":1986,"v":13.4},{"p":"All comp","sp":"Haddock","yr":1987,"v":7.4},{"p":"All comp","sp":"Haddock","yr":1988,"v":8.8},{"p":"All comp","sp":"Haddock","yr":1989,"v":14.5},{"p":"All comp","sp":"Haddock","yr":1990,"v":16.9},{"p":"All comp","sp":"Haddock","yr":1991,"v":9.2},{"p":"All comp","sp":"Haddock","yr":1992,"v":104.1},{"p":"All comp","sp":"Haddock","yr":1993,"v":14.1},
{"p":"All comp","sp":"Capelin","yr":1959,"v":22.2},{"p":"All comp","sp":"Capelin","yr":1960,"v":0.4},{"p":"All comp","sp":"Capelin","yr":1961,"v":65.3},{"p":"All comp","sp":"Capelin","yr":1962,"v":8.1},{"p":"All comp","sp":"Capelin","yr":1963,"v":8.1},{"p":"All comp","sp":"Capelin","yr":1964,"v":2.1},{"p":"All comp","sp":"Capelin","yr":1965,"v":0},{"p":"All comp","sp":"Capelin","yr":1966,"v":5.6},{"p":"All comp","sp":"Capelin","yr":1967,"v":8.1},{"p":"All comp","sp":"Capelin","yr":1968,"v":8.8},{"p":"All comp","sp":"Capelin","yr":1969,"v":39.2},{"p":"All comp","sp":"Capelin","yr":1970,"v":131},{"p":"All comp","sp":"Capelin","yr":1971,"v":120.4},{"p":"All comp","sp":"Capelin","yr":1972,"v":76.2},{"p":"All comp","sp":"Capelin","yr":1973,"v":30},{"p":"All comp","sp":"Capelin","yr":1974,"v":0},{"p":"All comp","sp":"Capelin","yr":1975,"v":41.7},{"p":"All comp","sp":"Capelin","yr":1976,"v":31.1},{"p":"All comp","sp":"Capelin","yr":1977,"v":19.4},{"p":"All comp","sp":"Capelin","yr":1978,"v":10.9},{"p":"All comp","sp":"Capelin","yr":1979,"v":0.4},{"p":"All comp","sp":"Capelin","yr":1980,"v":8.1},{"p":"All comp","sp":"Capelin","yr":1981,"v":15.2},{"p":"All comp","sp":"Capelin","yr":1982,"v":67.4},{"p":"All comp","sp":"Capelin","yr":1983,"v":124.6},{"p":"All comp","sp":"Capelin","yr":1984,"v":15.2},{"p":"All comp","sp":"Capelin","yr":1985,"v":41.7},{"p":"All comp","sp":"Capelin","yr":1986,"v":14.1},{"p":"All comp","sp":"Capelin","yr":1987,"v":2.1},{"p":"All comp","sp":"Capelin","yr":1988,"v":0.4},{"p":"All comp","sp":"Capelin","yr":1989,"v":15.2},{"p":"All comp","sp":"Capelin","yr":1990,"v":30},{"p":"All comp","sp":"Capelin","yr":1991,"v":22.2},{"p":"All comp","sp":"Capelin","yr":1992,"v":22.9},{"p":"All comp","sp":"Capelin","yr":1993,"v":13.4}
]
},
"spacing": 13,
"hconcat": [
{"spacing": 7, "vconcat": [
{"spacing": -6, "vconcat": [
 {"spacing": 14, "hconcat": [
  {"width": 228, "height": 50, "view": {"fill": "black", "stroke": null}, "data": {"values": [{"lab": "Cod"}]}, "mark": {"type": "text", "color": "white", "fontSize": 30, "fontWeight": "bold", "align": "center", "baseline": "middle"}, "encoding": {"text": {"field": "lab", "type": "nominal"}, "y": {"field": "lab", "type": "nominal", "axis": {"orient": "left", "labels": false, "ticks": false, "domain": false, "grid": false, "title": null, "minExtent": 100, "maxExtent": 100}}}},
  {"width": 228, "height": 50, "view": {"fill": "black", "stroke": null}, "data": {"values": [{"lab": "Haddock"}]}, "mark": {"type": "text", "color": "white", "fontSize": 30, "fontWeight": "bold", "align": "center", "baseline": "middle"}, "encoding": {"text": {"field": "lab", "type": "nominal"}}},
  {"width": 228, "height": 50, "view": {"fill": "black", "stroke": null}, "data": {"values": [{"lab": "Capelin"}]}, "mark": {"type": "text", "color": "white", "fontSize": 30, "fontWeight": "bold", "align": "center", "baseline": "middle"}, "encoding": {"text": {"field": "lab", "type": "nominal"}}}
 ]},
 {"spacing": 3, "vconcat": [
 {"spacing": 12, "hconcat": [
  {"width": 228, "height": 155, "view": {"stroke": "black", "strokeWidth": 2}, "resolve": {"axis": {"x": "independent", "y": "independent"}}, "layer": [
   {"data": {"name": "rc"}, "transform": [{"filter": "datum.sp == 'Cod'"}], "mark": {"type": "line", "color": "#E69F00", "strokeWidth": 5}, "encoding": {"x": {"field": "yr", "type": "quantitative", "scale": {"domain": [1957.3, 1994.7], "nice": false, "zero": false}, "axis": {"orient": "bottom", "values": [1960,1965,1970,1975,1980,1985,1990], "grid": true, "gridColor": "#d0d0d0", "labels": false, "ticks": false, "domain": false, "title": null, "minExtent": 0, "maxExtent": 0}}, "y": {"field": "v", "type": "quantitative", "scale": {"domain": [-123, 2593], "nice": false, "zero": false}, "axis": {"orient": "left", "values": [250,750,1250,1750,2250], "grid": true, "gridColor": "#333333", "labels": false, "ticks": false, "domain": false, "title": null, "minExtent": 0, "maxExtent": 0}}}},
   {"data": {"name": "rc"}, "transform": [{"filter": "datum.sp == 'Cod'"}], "mark": {"type": "point", "filled": true, "fill": "#E69F00", "stroke": "black", "strokeWidth": 1.5, "size": 110, "opacity": 1}, "encoding": {"x": {"field": "yr", "type": "quantitative", "axis": null}, "y": {"field": "v", "type": "quantitative", "axis": {"orient": "left", "values": [0,500,1000,1500,2000,2500], "format": "d", "grid": false, "domain": false, "labelPadding": 4, "title": null, "minExtent": 100, "maxExtent": 100}}}},
   {"data": {"name": "ov"}, "transform": [{"filter": "datum.p == 'Food' && datum.sp == 'Cod'"}], "mark": {"type": "line", "color": "black", "strokeWidth": 2.2}, "encoding": {"x": {"field": "yr", "type": "quantitative", "axis": null}, "y": {"field": "v", "type": "quantitative", "axis": null}}},
   {"data": {"name": "ov"}, "transform": [{"filter": "datum.p == 'Food' && datum.sp == 'Cod'"}], "mark": {"type": "point", "filled": true, "color": "black", "size": 125, "opacity": 1}, "encoding": {"x": {"field": "yr", "type": "quantitative", "axis": null}, "y": {"field": "v", "type": "quantitative", "axis": null}}}
  ]},
  {"width": 228, "height": 155, "view": {"stroke": "black", "strokeWidth": 2}, "resolve": {"axis": {"x": "independent", "y": "independent"}}, "layer": [
   {"data": {"name": "rc"}, "transform": [{"filter": "datum.sp == 'Haddock'"}], "mark": {"type": "line", "color": "#E69F00", "strokeWidth": 5}, "encoding": {"x": {"field": "yr", "type": "quantitative", "scale": {"domain": [1957.3, 1994.7], "nice": false, "zero": false}, "axis": {"orient": "bottom", "values": [1960,1965,1970,1975,1980,1985,1990], "grid": true, "gridColor": "#d0d0d0", "labels": false, "ticks": false, "domain": false, "title": null, "minExtent": 0, "maxExtent": 0}}, "y": {"field": "v", "type": "quantitative", "scale": {"domain": [-123, 2593], "nice": false, "zero": false}, "axis": {"orient": "left", "values": [250,750,1250,1750,2250], "grid": true, "gridColor": "#333333", "labels": false, "ticks": false, "domain": false, "title": null, "minExtent": 0, "maxExtent": 0}}}},
   {"data": {"name": "rc"}, "transform": [{"filter": "datum.sp == 'Haddock'"}], "mark": {"type": "point", "filled": true, "fill": "#E69F00", "stroke": "black", "strokeWidth": 1.5, "size": 110, "opacity": 1}, "encoding": {"x": {"field": "yr", "type": "quantitative", "axis": null}, "y": {"field": "v", "type": "quantitative", "axis": null}}},
   {"data": {"name": "ov"}, "transform": [{"filter": "datum.p == 'Food' && datum.sp == 'Haddock'"}], "mark": {"type": "line", "color": "black", "strokeWidth": 2.2}, "encoding": {"x": {"field": "yr", "type": "quantitative", "axis": null}, "y": {"field": "v", "type": "quantitative", "axis": null}}},
   {"data": {"name": "ov"}, "transform": [{"filter": "datum.p == 'Food' && datum.sp == 'Haddock'"}], "mark": {"type": "point", "filled": true, "color": "black", "size": 125, "opacity": 1}, "encoding": {"x": {"field": "yr", "type": "quantitative", "axis": null}, "y": {"field": "v", "type": "quantitative", "axis": null}}}
  ]},
  {"spacing": 1, "hconcat": [
   {"width": 228, "height": 155, "view": {"stroke": "black", "strokeWidth": 2}, "resolve": {"axis": {"x": "independent", "y": "independent"}}, "layer": [
    {"data": {"name": "rc"}, "transform": [{"filter": "datum.sp == 'Capelin'"}], "mark": {"type": "line", "color": "#E69F00", "strokeWidth": 5}, "encoding": {"x": {"field": "yr", "type": "quantitative", "scale": {"domain": [1957.3, 1994.7], "nice": false, "zero": false}, "axis": {"orient": "bottom", "values": [1960,1965,1970,1975,1980,1985,1990], "grid": true, "gridColor": "#d0d0d0", "labels": false, "ticks": false, "domain": false, "title": null, "minExtent": 0, "maxExtent": 0}}, "y": {"field": "v", "type": "quantitative", "scale": {"domain": [-123, 2593], "nice": false, "zero": false}, "axis": {"orient": "left", "values": [250,750,1250,1750,2250], "grid": true, "gridColor": "#333333", "labels": false, "ticks": false, "domain": false, "title": null, "minExtent": 0, "maxExtent": 0}}}},
    {"data": {"name": "rc"}, "transform": [{"filter": "datum.sp == 'Capelin'"}], "mark": {"type": "point", "filled": true, "fill": "#E69F00", "stroke": "black", "strokeWidth": 1.5, "size": 110, "opacity": 1}, "encoding": {"x": {"field": "yr", "type": "quantitative", "axis": null}, "y": {"field": "v", "type": "quantitative", "axis": null}}},
    {"data": {"name": "ov"}, "transform": [{"filter": "datum.p == 'Food' && datum.sp == 'Capelin'"}], "mark": {"type": "line", "color": "black", "strokeWidth": 2.2}, "encoding": {"x": {"field": "yr", "type": "quantitative", "axis": null}, "y": {"field": "v", "type": "quantitative", "axis": null}}},
    {"data": {"name": "ov"}, "transform": [{"filter": "datum.p == 'Food' && datum.sp == 'Capelin'"}], "mark": {"type": "point", "filled": true, "color": "black", "size": 125, "opacity": 1}, "encoding": {"x": {"field": "yr", "type": "quantitative", "axis": null}, "y": {"field": "v", "type": "quantitative", "axis": null}}}
   ]},
   {"width": 37, "height": 155, "view": {"fill": "black", "stroke": null}, "layer": [
    {"data": {"values": [{"lab": "Food"}]}, "mark": {"type": "text", "angle": 90, "color": "white", "fontSize": 30, "fontWeight": "bold", "align": "center", "baseline": "middle"}, "encoding": {"text": {"field": "lab", "type": "nominal"}}},
    {"data": {"name": "ov"}, "transform": [{"filter": "datum.p == 'Food'"}], "mark": {"type": "point", "opacity": 0}, "encoding": {"y": {"field": "v", "type": "quantitative", "scale": {"domain": [-123, 2593], "nice": false, "zero": false}, "axis": {"orient": "right", "values": [0,500,1000,1500,2000,2500], "labelExpr": "format(datum.value/100, 'd')", "grid": false, "domain": false, "labelPadding": 5, "title": null}}}}
   ]}
  ]}
 ]},
 {"spacing": 12, "hconcat": [
  {"width": 228, "height": 155, "view": {"stroke": "black", "strokeWidth": 2}, "resolve": {"axis": {"x": "independent", "y": "independent"}}, "layer": [
   {"data": {"name": "rc"}, "transform": [{"filter": "datum.sp == 'Cod'"}], "mark": {"type": "line", "color": "#E69F00", "strokeWidth": 5}, "encoding": {"x": {"field": "yr", "type": "quantitative", "scale": {"domain": [1957.3, 1994.7], "nice": false, "zero": false}, "axis": {"orient": "bottom", "values": [1960,1965,1970,1975,1980,1985,1990], "grid": true, "gridColor": "#d0d0d0", "labels": false, "ticks": false, "domain": false, "title": null, "minExtent": 0, "maxExtent": 0}}, "y": {"field": "v", "type": "quantitative", "scale": {"domain": [-5, 105], "nice": false, "zero": false}, "axis": {"orient": "left", "values": [12.5,37.5,62.5,87.5], "grid": true, "gridColor": "#333333", "labels": false, "ticks": false, "domain": false, "title": null, "minExtent": 0, "maxExtent": 0}}}},
   {"data": {"name": "rc"}, "transform": [{"filter": "datum.sp == 'Cod'"}], "mark": {"type": "point", "filled": true, "fill": "#E69F00", "stroke": "black", "strokeWidth": 1.5, "size": 110, "opacity": 1}, "encoding": {"x": {"field": "yr", "type": "quantitative", "axis": null}, "y": {"field": "v", "type": "quantitative", "axis": {"orient": "left", "values": [0,25,50,75,100], "format": "d", "grid": false, "domain": false, "labelPadding": 4, "title": null, "minExtent": 100, "maxExtent": 100}}}},
   {"data": {"name": "ov"}, "transform": [{"filter": "datum.p == 'Herring' && datum.sp == 'Cod'"}], "mark": {"type": "line", "color": "black", "strokeWidth": 2.2}, "encoding": {"x": {"field": "yr", "type": "quantitative", "axis": null}, "y": {"field": "v", "type": "quantitative", "axis": null}}},
   {"data": {"name": "ov"}, "transform": [{"filter": "datum.p == 'Herring' && datum.sp == 'Cod'"}], "mark": {"type": "point", "filled": true, "color": "black", "size": 125, "opacity": 1}, "encoding": {"x": {"field": "yr", "type": "quantitative", "axis": null}, "y": {"field": "v", "type": "quantitative", "axis": null}}}
  ]},
  {"width": 228, "height": 155, "view": {"stroke": "black", "strokeWidth": 2}, "resolve": {"axis": {"x": "independent", "y": "independent"}}, "layer": [
   {"data": {"name": "rc"}, "transform": [{"filter": "datum.sp == 'Haddock'"}], "mark": {"type": "line", "color": "#E69F00", "strokeWidth": 5}, "encoding": {"x": {"field": "yr", "type": "quantitative", "scale": {"domain": [1957.3, 1994.7], "nice": false, "zero": false}, "axis": {"orient": "bottom", "values": [1960,1965,1970,1975,1980,1985,1990], "grid": true, "gridColor": "#d0d0d0", "labels": false, "ticks": false, "domain": false, "title": null, "minExtent": 0, "maxExtent": 0}}, "y": {"field": "v", "type": "quantitative", "scale": {"domain": [-5, 105], "nice": false, "zero": false}, "axis": {"orient": "left", "values": [12.5,37.5,62.5,87.5], "grid": true, "gridColor": "#333333", "labels": false, "ticks": false, "domain": false, "title": null, "minExtent": 0, "maxExtent": 0}}}},
   {"data": {"name": "rc"}, "transform": [{"filter": "datum.sp == 'Haddock'"}], "mark": {"type": "point", "filled": true, "fill": "#E69F00", "stroke": "black", "strokeWidth": 1.5, "size": 110, "opacity": 1}, "encoding": {"x": {"field": "yr", "type": "quantitative", "axis": null}, "y": {"field": "v", "type": "quantitative", "axis": null}}},
   {"data": {"name": "ov"}, "transform": [{"filter": "datum.p == 'Herring' && datum.sp == 'Haddock'"}], "mark": {"type": "line", "color": "black", "strokeWidth": 2.2}, "encoding": {"x": {"field": "yr", "type": "quantitative", "axis": null}, "y": {"field": "v", "type": "quantitative", "axis": null}}},
   {"data": {"name": "ov"}, "transform": [{"filter": "datum.p == 'Herring' && datum.sp == 'Haddock'"}], "mark": {"type": "point", "filled": true, "color": "black", "size": 125, "opacity": 1}, "encoding": {"x": {"field": "yr", "type": "quantitative", "axis": null}, "y": {"field": "v", "type": "quantitative", "axis": null}}}
  ]},
  {"spacing": 1, "hconcat": [
   {"width": 228, "height": 155, "view": {"stroke": "black", "strokeWidth": 2}, "resolve": {"axis": {"x": "independent", "y": "independent"}}, "layer": [
    {"data": {"name": "rc"}, "transform": [{"filter": "datum.sp == 'Capelin'"}], "mark": {"type": "line", "color": "#E69F00", "strokeWidth": 5}, "encoding": {"x": {"field": "yr", "type": "quantitative", "scale": {"domain": [1957.3, 1994.7], "nice": false, "zero": false}, "axis": {"orient": "bottom", "values": [1960,1965,1970,1975,1980,1985,1990], "grid": true, "gridColor": "#d0d0d0", "labels": false, "ticks": false, "domain": false, "title": null, "minExtent": 0, "maxExtent": 0}}, "y": {"field": "v", "type": "quantitative", "scale": {"domain": [-5, 105], "nice": false, "zero": false}, "axis": {"orient": "left", "values": [12.5,37.5,62.5,87.5], "grid": true, "gridColor": "#333333", "labels": false, "ticks": false, "domain": false, "title": null, "minExtent": 0, "maxExtent": 0}}}},
    {"data": {"name": "rc"}, "transform": [{"filter": "datum.sp == 'Capelin'"}], "mark": {"type": "point", "filled": true, "fill": "#E69F00", "stroke": "black", "strokeWidth": 1.5, "size": 110, "opacity": 1}, "encoding": {"x": {"field": "yr", "type": "quantitative", "axis": null}, "y": {"field": "v", "type": "quantitative", "axis": null}}},
    {"data": {"name": "ov"}, "transform": [{"filter": "datum.p == 'Herring' && datum.sp == 'Capelin'"}], "mark": {"type": "line", "color": "black", "strokeWidth": 2.2}, "encoding": {"x": {"field": "yr", "type": "quantitative", "axis": null}, "y": {"field": "v", "type": "quantitative", "axis": null}}},
    {"data": {"name": "ov"}, "transform": [{"filter": "datum.p == 'Herring' && datum.sp == 'Capelin'"}], "mark": {"type": "point", "filled": true, "color": "black", "size": 125, "opacity": 1}, "encoding": {"x": {"field": "yr", "type": "quantitative", "axis": null}, "y": {"field": "v", "type": "quantitative", "axis": null}}}
   ]},
   {"width": 37, "height": 155, "view": {"fill": "black", "stroke": null}, "layer": [
    {"data": {"values": [{"lab": "Herring"}]}, "mark": {"type": "text", "angle": 90, "color": "white", "fontSize": 30, "fontWeight": "bold", "align": "center", "baseline": "middle"}, "encoding": {"text": {"field": "lab", "type": "nominal"}}},
    {"data": {"name": "ov"}, "transform": [{"filter": "datum.p == 'Herring'"}], "mark": {"type": "point", "opacity": 0}, "encoding": {"y": {"field": "v", "type": "quantitative", "scale": {"domain": [-5, 105], "nice": false, "zero": false}, "axis": {"orient": "right", "values": [0,25,50,75,100], "labelExpr": "format(datum.value/100, '.2f')", "grid": false, "domain": false, "labelPadding": 5, "title": null}}}}
   ]}
  ]}
 ]}
 ]}
]},
{"spacing": 12, "hconcat": [
  {"width": 228, "height": 155, "view": {"stroke": "black", "strokeWidth": 2}, "resolve": {"axis": {"x": "independent", "y": "independent"}}, "layer": [
   {"data": {"name": "rc"}, "transform": [{"filter": "datum.sp == 'Cod'"}], "mark": {"type": "line", "color": "#E69F00", "strokeWidth": 5}, "encoding": {"x": {"field": "yr", "type": "quantitative", "scale": {"domain": [1957.3, 1994.7], "nice": false, "zero": false}, "axis": {"orient": "bottom", "values": [1960,1965,1970,1975,1980,1985,1990], "grid": true, "gridColor": "#d0d0d0", "labels": false, "ticks": false, "domain": false, "title": null, "minExtent": 0, "maxExtent": 0}}, "y": {"field": "v", "type": "quantitative", "scale": {"domain": [-5.67, 119.07], "nice": false, "zero": false}, "axis": {"orient": "left", "values": [15,45,75,105], "grid": true, "gridColor": "#333333", "labels": false, "ticks": false, "domain": false, "title": null, "minExtent": 0, "maxExtent": 0}}}},
   {"data": {"name": "rc"}, "transform": [{"filter": "datum.sp == 'Cod'"}], "mark": {"type": "point", "filled": true, "fill": "#E69F00", "stroke": "black", "strokeWidth": 1.5, "size": 110, "opacity": 1}, "encoding": {"x": {"field": "yr", "type": "quantitative", "axis": null}, "y": {"field": "v", "type": "quantitative", "axis": {"orient": "left", "values": [0,30,60,90], "format": "d", "grid": false, "domain": false, "labelPadding": 4, "title": "Overlap", "titleX": -84, "titleY": 77.5, "titleAngle": 270, "titleAlign": "center", "titleBaseline": "middle", "minExtent": 100, "maxExtent": 100}}}},
   {"data": {"name": "ov"}, "transform": [{"filter": "datum.p == 'Comp 2' && datum.sp == 'Cod'"}], "mark": {"type": "line", "color": "black", "strokeWidth": 2.2}, "encoding": {"x": {"field": "yr", "type": "quantitative", "axis": null}, "y": {"field": "v", "type": "quantitative", "axis": null}}},
   {"data": {"name": "ov"}, "transform": [{"filter": "datum.p == 'Comp 2' && datum.sp == 'Cod'"}], "mark": {"type": "point", "filled": true, "color": "black", "size": 125, "opacity": 1}, "encoding": {"x": {"field": "yr", "type": "quantitative", "axis": null}, "y": {"field": "v", "type": "quantitative", "axis": null}}}
  ]},
  {"width": 228, "height": 155, "view": {"stroke": "black", "strokeWidth": 2}, "resolve": {"axis": {"x": "independent", "y": "independent"}}, "layer": [
   {"data": {"name": "rc"}, "transform": [{"filter": "datum.sp == 'Haddock'"}], "mark": {"type": "line", "color": "#E69F00", "strokeWidth": 5}, "encoding": {"x": {"field": "yr", "type": "quantitative", "scale": {"domain": [1957.3, 1994.7], "nice": false, "zero": false}, "axis": {"orient": "bottom", "values": [1960,1965,1970,1975,1980,1985,1990], "grid": true, "gridColor": "#d0d0d0", "labels": false, "ticks": false, "domain": false, "title": null, "minExtent": 0, "maxExtent": 0}}, "y": {"field": "v", "type": "quantitative", "scale": {"domain": [-5.67, 119.07], "nice": false, "zero": false}, "axis": {"orient": "left", "values": [15,45,75,105], "grid": true, "gridColor": "#333333", "labels": false, "ticks": false, "domain": false, "title": null, "minExtent": 0, "maxExtent": 0}}}},
   {"data": {"name": "rc"}, "transform": [{"filter": "datum.sp == 'Haddock'"}], "mark": {"type": "point", "filled": true, "fill": "#E69F00", "stroke": "black", "strokeWidth": 1.5, "size": 110, "opacity": 1}, "encoding": {"x": {"field": "yr", "type": "quantitative", "axis": null}, "y": {"field": "v", "type": "quantitative", "axis": null}}},
   {"data": {"name": "ov"}, "transform": [{"filter": "datum.p == 'Comp 2' && datum.sp == 'Haddock'"}], "mark": {"type": "line", "color": "black", "strokeWidth": 2.2}, "encoding": {"x": {"field": "yr", "type": "quantitative", "axis": null}, "y": {"field": "v", "type": "quantitative", "axis": null}}},
   {"data": {"name": "ov"}, "transform": [{"filter": "datum.p == 'Comp 2' && datum.sp == 'Haddock'"}], "mark": {"type": "point", "filled": true, "color": "black", "size": 125, "opacity": 1}, "encoding": {"x": {"field": "yr", "type": "quantitative", "axis": null}, "y": {"field": "v", "type": "quantitative", "axis": null}}}
  ]},
  {"spacing": 1, "hconcat": [
   {"width": 228, "height": 155, "view": {"stroke": "black", "strokeWidth": 2}, "resolve": {"axis": {"x": "independent", "y": "independent"}}, "layer": [
    {"data": {"name": "rc"}, "transform": [{"filter": "datum.sp == 'Capelin'"}], "mark": {"type": "line", "color": "#E69F00", "strokeWidth": 5}, "encoding": {"x": {"field": "yr", "type": "quantitative", "scale": {"domain": [1957.3, 1994.7], "nice": false, "zero": false}, "axis": {"orient": "bottom", "values": [1960,1965,1970,1975,1980,1985,1990], "grid": true, "gridColor": "#d0d0d0", "labels": false, "ticks": false, "domain": false, "title": null, "minExtent": 0, "maxExtent": 0}}, "y": {"field": "v", "type": "quantitative", "scale": {"domain": [-5.67, 119.07], "nice": false, "zero": false}, "axis": {"orient": "left", "values": [15,45,75,105], "grid": true, "gridColor": "#333333", "labels": false, "ticks": false, "domain": false, "title": null, "minExtent": 0, "maxExtent": 0}}}},
    {"data": {"name": "rc"}, "transform": [{"filter": "datum.sp == 'Capelin'"}], "mark": {"type": "point", "filled": true, "fill": "#E69F00", "stroke": "black", "strokeWidth": 1.5, "size": 110, "opacity": 1}, "encoding": {"x": {"field": "yr", "type": "quantitative", "axis": null}, "y": {"field": "v", "type": "quantitative", "axis": null}}},
    {"data": {"name": "ov"}, "transform": [{"filter": "datum.p == 'Comp 2' && datum.sp == 'Capelin'"}], "mark": {"type": "line", "color": "black", "strokeWidth": 2.2}, "encoding": {"x": {"field": "yr", "type": "quantitative", "axis": null}, "y": {"field": "v", "type": "quantitative", "axis": null}}},
    {"data": {"name": "ov"}, "transform": [{"filter": "datum.p == 'Comp 2' && datum.sp == 'Capelin'"}], "mark": {"type": "point", "filled": true, "color": "black", "size": 125, "opacity": 1}, "encoding": {"x": {"field": "yr", "type": "quantitative", "axis": null}, "y": {"field": "v", "type": "quantitative", "axis": null}}}
   ]},
   {"width": 37, "height": 155, "view": {"fill": "black", "stroke": null}, "layer": [
    {"data": {"values": [{"lab": "Comp 2"}]}, "mark": {"type": "text", "angle": 90, "color": "white", "fontSize": 30, "fontWeight": "bold", "align": "center", "baseline": "middle"}, "encoding": {"text": {"field": "lab", "type": "nominal"}}},
    {"data": {"name": "ov"}, "transform": [{"filter": "datum.p == 'Comp 2'"}], "mark": {"type": "point", "opacity": 0}, "encoding": {"y": {"field": "v", "type": "quantitative", "scale": {"domain": [-5.67, 119.07], "nice": false, "zero": false}, "axis": {"orient": "right", "values": [0,30,60,90], "labelExpr": "format(datum.value/100, '.1f')", "grid": false, "domain": false, "labelPadding": 5, "title": null}}}}
   ]}
  ]}
]},
{"spacing": 12, "hconcat": [
  {"width": 228, "height": 155, "view": {"stroke": "black", "strokeWidth": 2}, "resolve": {"axis": {"x": "independent", "y": "independent"}}, "layer": [
   {"data": {"name": "rc"}, "transform": [{"filter": "datum.sp == 'Cod'"}], "mark": {"type": "line", "color": "#E69F00", "strokeWidth": 5}, "encoding": {"x": {"field": "yr", "type": "quantitative", "scale": {"domain": [1957.3, 1994.7], "nice": false, "zero": false}, "axis": {"orient": "bottom", "values": [1960,1965,1970,1975,1980,1985,1990], "grid": true, "gridColor": "#d0d0d0", "labels": false, "ticks": false, "domain": false, "title": null, "minExtent": 0, "maxExtent": 0}}, "y": {"field": "v", "type": "quantitative", "scale": {"domain": [-5.67, 119.07], "nice": false, "zero": false}, "axis": {"orient": "left", "values": [15,45,75,105], "grid": true, "gridColor": "#333333", "labels": false, "ticks": false, "domain": false, "title": null, "minExtent": 0, "maxExtent": 0}}}},
   {"data": {"name": "rc"}, "transform": [{"filter": "datum.sp == 'Cod'"}], "mark": {"type": "point", "filled": true, "fill": "#E69F00", "stroke": "black", "strokeWidth": 1.5, "size": 110, "opacity": 1}, "encoding": {"x": {"field": "yr", "type": "quantitative", "axis": null}, "y": {"field": "v", "type": "quantitative", "axis": {"orient": "left", "values": [0,30,60,90], "format": "d", "grid": false, "domain": false, "labelPadding": 4, "title": null, "minExtent": 100, "maxExtent": 100}}}},
   {"data": {"name": "ov"}, "transform": [{"filter": "datum.p == 'Comp 1' && datum.sp == 'Cod'"}], "mark": {"type": "line", "color": "black", "strokeWidth": 2.2}, "encoding": {"x": {"field": "yr", "type": "quantitative", "axis": null}, "y": {"field": "v", "type": "quantitative", "axis": null}}},
   {"data": {"name": "ov"}, "transform": [{"filter": "datum.p == 'Comp 1' && datum.sp == 'Cod'"}], "mark": {"type": "point", "filled": true, "color": "black", "size": 125, "opacity": 1}, "encoding": {"x": {"field": "yr", "type": "quantitative", "axis": null}, "y": {"field": "v", "type": "quantitative", "axis": null}}}
  ]},
  {"width": 228, "height": 155, "view": {"stroke": "black", "strokeWidth": 2}, "resolve": {"axis": {"x": "independent", "y": "independent"}}, "layer": [
   {"data": {"name": "rc"}, "transform": [{"filter": "datum.sp == 'Haddock'"}], "mark": {"type": "line", "color": "#E69F00", "strokeWidth": 5}, "encoding": {"x": {"field": "yr", "type": "quantitative", "scale": {"domain": [1957.3, 1994.7], "nice": false, "zero": false}, "axis": {"orient": "bottom", "values": [1960,1965,1970,1975,1980,1985,1990], "grid": true, "gridColor": "#d0d0d0", "labels": false, "ticks": false, "domain": false, "title": null, "minExtent": 0, "maxExtent": 0}}, "y": {"field": "v", "type": "quantitative", "scale": {"domain": [-5.67, 119.07], "nice": false, "zero": false}, "axis": {"orient": "left", "values": [15,45,75,105], "grid": true, "gridColor": "#333333", "labels": false, "ticks": false, "domain": false, "title": null, "minExtent": 0, "maxExtent": 0}}}},
   {"data": {"name": "rc"}, "transform": [{"filter": "datum.sp == 'Haddock'"}], "mark": {"type": "point", "filled": true, "fill": "#E69F00", "stroke": "black", "strokeWidth": 1.5, "size": 110, "opacity": 1}, "encoding": {"x": {"field": "yr", "type": "quantitative", "axis": null}, "y": {"field": "v", "type": "quantitative", "axis": null}}},
   {"data": {"name": "ov"}, "transform": [{"filter": "datum.p == 'Comp 1' && datum.sp == 'Haddock'"}], "mark": {"type": "line", "color": "black", "strokeWidth": 2.2}, "encoding": {"x": {"field": "yr", "type": "quantitative", "axis": null}, "y": {"field": "v", "type": "quantitative", "axis": null}}},
   {"data": {"name": "ov"}, "transform": [{"filter": "datum.p == 'Comp 1' && datum.sp == 'Haddock'"}], "mark": {"type": "point", "filled": true, "color": "black", "size": 125, "opacity": 1}, "encoding": {"x": {"field": "yr", "type": "quantitative", "axis": null}, "y": {"field": "v", "type": "quantitative", "axis": null}}}
  ]},
  {"spacing": 1, "hconcat": [
   {"width": 228, "height": 155, "view": {"stroke": "black", "strokeWidth": 2}, "resolve": {"axis": {"x": "independent", "y": "independent"}}, "layer": [
    {"data": {"name": "rc"}, "transform": [{"filter": "datum.sp == 'Capelin'"}], "mark": {"type": "line", "color": "#E69F00", "strokeWidth": 5}, "encoding": {"x": {"field": "yr", "type": "quantitative", "scale": {"domain": [1957.3, 1994.7], "nice": false, "zero": false}, "axis": {"orient": "bottom", "values": [1960,1965,1970,1975,1980,1985,1990], "grid": true, "gridColor": "#d0d0d0", "labels": false, "ticks": false, "domain": false, "title": null, "minExtent": 0, "maxExtent": 0}}, "y": {"field": "v", "type": "quantitative", "scale": {"domain": [-5.67, 119.07], "nice": false, "zero": false}, "axis": {"orient": "left", "values": [15,45,75,105], "grid": true, "gridColor": "#333333", "labels": false, "ticks": false, "domain": false, "title": null, "minExtent": 0, "maxExtent": 0}}}},
    {"data": {"name": "rc"}, "transform": [{"filter": "datum.sp == 'Capelin'"}], "mark": {"type": "point", "filled": true, "fill": "#E69F00", "stroke": "black", "strokeWidth": 1.5, "size": 110, "opacity": 1}, "encoding": {"x": {"field": "yr", "type": "quantitative", "axis": null}, "y": {"field": "v", "type": "quantitative", "axis": null}}},
    {"data": {"name": "ov"}, "transform": [{"filter": "datum.p == 'Comp 1' && datum.sp == 'Capelin'"}], "mark": {"type": "line", "color": "black", "strokeWidth": 2.2}, "encoding": {"x": {"field": "yr", "type": "quantitative", "axis": null}, "y": {"field": "v", "type": "quantitative", "axis": null}}},
    {"data": {"name": "ov"}, "transform": [{"filter": "datum.p == 'Comp 1' && datum.sp == 'Capelin'"}], "mark": {"type": "point", "filled": true, "color": "black", "size": 125, "opacity": 1}, "encoding": {"x": {"field": "yr", "type": "quantitative", "axis": null}, "y": {"field": "v", "type": "quantitative", "axis": null}}}
   ]},
   {"width": 37, "height": 155, "view": {"fill": "black", "stroke": null}, "layer": [
    {"data": {"values": [{"lab": "Comp 1"}]}, "mark": {"type": "text", "angle": 90, "color": "white", "fontSize": 30, "fontWeight": "bold", "align": "center", "baseline": "middle"}, "encoding": {"text": {"field": "lab", "type": "nominal"}}},
    {"data": {"name": "ov"}, "transform": [{"filter": "datum.p == 'Comp 1'"}], "mark": {"type": "point", "opacity": 0}, "encoding": {"y": {"field": "v", "type": "quantitative", "scale": {"domain": [-5.67, 119.07], "nice": false, "zero": false}, "axis": {"orient": "right", "values": [0,30,60,90], "labelExpr": "format(datum.value/100, '.1f')", "grid": false, "domain": false, "labelPadding": 5, "title": null}}}}
   ]}
  ]}
]},
{"spacing": 2.9, "hconcat": [
  {"width": 228, "height": 155, "view": {"stroke": "black", "strokeWidth": 2}, "resolve": {"axis": {"x": "independent", "y": "independent"}}, "layer": [
   {"data": {"name": "rc"}, "transform": [{"filter": "datum.sp == 'Cod'"}], "mark": {"type": "line", "color": "#E69F00", "strokeWidth": 5}, "encoding": {"x": {"field": "yr", "type": "quantitative", "scale": {"domain": [1957.3, 1994.7], "nice": false, "zero": false}, "axis": {"orient": "bottom", "values": [1960,1965,1970,1975,1980,1985,1990], "grid": true, "gridColor": "#d0d0d0", "labels": false, "ticks": false, "domain": false, "title": null, "minExtent": 0, "maxExtent": 0}}, "y": {"field": "v", "type": "quantitative", "scale": {"domain": [-7.5, 157.5], "nice": false, "zero": false}, "axis": {"orient": "left", "values": [25,75,125], "grid": true, "gridColor": "#333333", "labels": false, "ticks": false, "domain": false, "title": null, "minExtent": 0, "maxExtent": 0}}}},
   {"data": {"name": "rc"}, "transform": [{"filter": "datum.sp == 'Cod'"}], "mark": {"type": "point", "filled": true, "fill": "#E69F00", "stroke": "black", "strokeWidth": 1.5, "size": 110, "opacity": 1}, "encoding": {"x": {"field": "yr", "type": "quantitative", "axis": {"orient": "bottom", "values": [1960,1970,1980,1990], "format": "d", "grid": false, "domain": false, "labelPadding": 4, "title": null}}, "y": {"field": "v", "type": "quantitative", "axis": {"orient": "left", "values": [0,50,100,150], "format": "d", "grid": false, "domain": false, "labelPadding": 4, "title": null, "minExtent": 100, "maxExtent": 100}}}},
   {"data": {"name": "ov"}, "transform": [{"filter": "datum.p == 'All comp' && datum.sp == 'Cod'"}], "mark": {"type": "line", "color": "black", "strokeWidth": 2.2}, "encoding": {"x": {"field": "yr", "type": "quantitative", "axis": null}, "y": {"field": "v", "type": "quantitative", "axis": null}}},
   {"data": {"name": "ov"}, "transform": [{"filter": "datum.p == 'All comp' && datum.sp == 'Cod'"}], "mark": {"type": "point", "filled": true, "color": "black", "size": 125, "opacity": 1}, "encoding": {"x": {"field": "yr", "type": "quantitative", "axis": null}, "y": {"field": "v", "type": "quantitative", "axis": null}}}
  ]},
  {"width": 228, "height": 155, "view": {"stroke": "black", "strokeWidth": 2}, "resolve": {"axis": {"x": "independent", "y": "independent"}}, "layer": [
   {"data": {"name": "rc"}, "transform": [{"filter": "datum.sp == 'Haddock'"}], "mark": {"type": "line", "color": "#E69F00", "strokeWidth": 5}, "encoding": {"x": {"field": "yr", "type": "quantitative", "scale": {"domain": [1957.3, 1994.7], "nice": false, "zero": false}, "axis": {"orient": "bottom", "values": [1960,1965,1970,1975,1980,1985,1990], "grid": true, "gridColor": "#d0d0d0", "labels": false, "ticks": false, "domain": false, "title": null, "minExtent": 0, "maxExtent": 0}}, "y": {"field": "v", "type": "quantitative", "scale": {"domain": [-7.5, 157.5], "nice": false, "zero": false}, "axis": {"orient": "left", "values": [25,75,125], "grid": true, "gridColor": "#333333", "labels": false, "ticks": false, "domain": false, "title": null, "minExtent": 0, "maxExtent": 0}}}},
   {"data": {"name": "rc"}, "transform": [{"filter": "datum.sp == 'Haddock'"}], "mark": {"type": "point", "filled": true, "fill": "#E69F00", "stroke": "black", "strokeWidth": 1.5, "size": 110, "opacity": 1}, "encoding": {"x": {"field": "yr", "type": "quantitative", "axis": {"orient": "bottom", "values": [1960,1970,1980,1990], "format": "d", "grid": false, "domain": false, "labelPadding": 4, "title": "Year", "titleFontSize": 26, "titleX": 173, "titleY": 48, "titleBaseline": "middle", "titleAlign": "center"}}, "y": {"field": "v", "type": "quantitative", "axis": null}}},
   {"data": {"name": "ov"}, "transform": [{"filter": "datum.p == 'All comp' && datum.sp == 'Haddock'"}], "mark": {"type": "line", "color": "black", "strokeWidth": 2.2}, "encoding": {"x": {"field": "yr", "type": "quantitative", "axis": null}, "y": {"field": "v", "type": "quantitative", "axis": null}}},
   {"data": {"name": "ov"}, "transform": [{"filter": "datum.p == 'All comp' && datum.sp == 'Haddock'"}], "mark": {"type": "point", "filled": true, "color": "black", "size": 125, "opacity": 1}, "encoding": {"x": {"field": "yr", "type": "quantitative", "axis": null}, "y": {"field": "v", "type": "quantitative", "axis": null}}}
  ]},
  {"spacing": 0, "hconcat": [
   {"width": 228, "height": 155, "view": {"stroke": "black", "strokeWidth": 2}, "resolve": {"axis": {"x": "independent", "y": "independent"}}, "layer": [
    {"data": {"name": "rc"}, "transform": [{"filter": "datum.sp == 'Capelin'"}], "mark": {"type": "line", "color": "#E69F00", "strokeWidth": 5}, "encoding": {"x": {"field": "yr", "type": "quantitative", "scale": {"domain": [1957.3, 1994.7], "nice": false, "zero": false}, "axis": {"orient": "bottom", "values": [1960,1965,1970,1975,1980,1985,1990], "grid": true, "gridColor": "#d0d0d0", "labels": false, "ticks": false, "domain": false, "title": null, "minExtent": 0, "maxExtent": 0}}, "y": {"field": "v", "type": "quantitative", "scale": {"domain": [-7.5, 157.5], "nice": false, "zero": false}, "axis": {"orient": "left", "values": [25,75,125], "grid": true, "gridColor": "#333333", "labels": false, "ticks": false, "domain": false, "title": null, "minExtent": 0, "maxExtent": 0}}}},
    {"data": {"name": "rc"}, "transform": [{"filter": "datum.sp == 'Capelin'"}], "mark": {"type": "point", "filled": true, "fill": "#E69F00", "stroke": "black", "strokeWidth": 1.5, "size": 110, "opacity": 1}, "encoding": {"x": {"field": "yr", "type": "quantitative", "axis": {"orient": "bottom", "values": [1960,1970,1980,1990], "format": "d", "grid": false, "domain": false, "labelPadding": 4, "title": null}}, "y": {"field": "v", "type": "quantitative", "axis": null}}},
    {"data": {"name": "ov"}, "transform": [{"filter": "datum.p == 'All comp' && datum.sp == 'Capelin'"}], "mark": {"type": "line", "color": "black", "strokeWidth": 2.2}, "encoding": {"x": {"field": "yr", "type": "quantitative", "axis": null}, "y": {"field": "v", "type": "quantitative", "axis": null}}},
    {"data": {"name": "ov"}, "transform": [{"filter": "datum.p == 'All comp' && datum.sp == 'Capelin'"}], "mark": {"type": "point", "filled": true, "color": "black", "size": 125, "opacity": 1}, "encoding": {"x": {"field": "yr", "type": "quantitative", "axis": null}, "y": {"field": "v", "type": "quantitative", "axis": null}}}
   ]},
   {"width": 37, "height": 155, "view": {"fill": "black", "stroke": null}, "layer": [
    {"data": {"values": [{"lab": "All comp"}]}, "mark": {"type": "text", "angle": 90, "color": "white", "fontSize": 30, "fontWeight": "bold", "align": "center", "baseline": "middle"}, "encoding": {"text": {"field": "lab", "type": "nominal"}}},
    {"data": {"name": "ov"}, "transform": [{"filter": "datum.p == 'All comp'"}], "mark": {"type": "point", "opacity": 0}, "encoding": {"y": {"field": "v", "type": "quantitative", "scale": {"domain": [-7.5, 157.5], "nice": false, "zero": false}, "axis": {"orient": "right", "values": [0,50,100,150], "labelExpr": "format(datum.value/100, '.1f')", "grid": false, "domain": false, "labelPadding": 5, "title": null}}}}
   ]}
  ]}
]}
]},
{"width": 28, "height": 928, "data": {"values": [{"t": "Normalised Recruitment [x 10]"}]}, "mark": {"type": "text", "angle": 90, "fontSize": 28, "color": "black", "align": "center", "baseline": "middle"}, "encoding": {"text": {"field": "t", "type": "nominal"}}}
]
}
